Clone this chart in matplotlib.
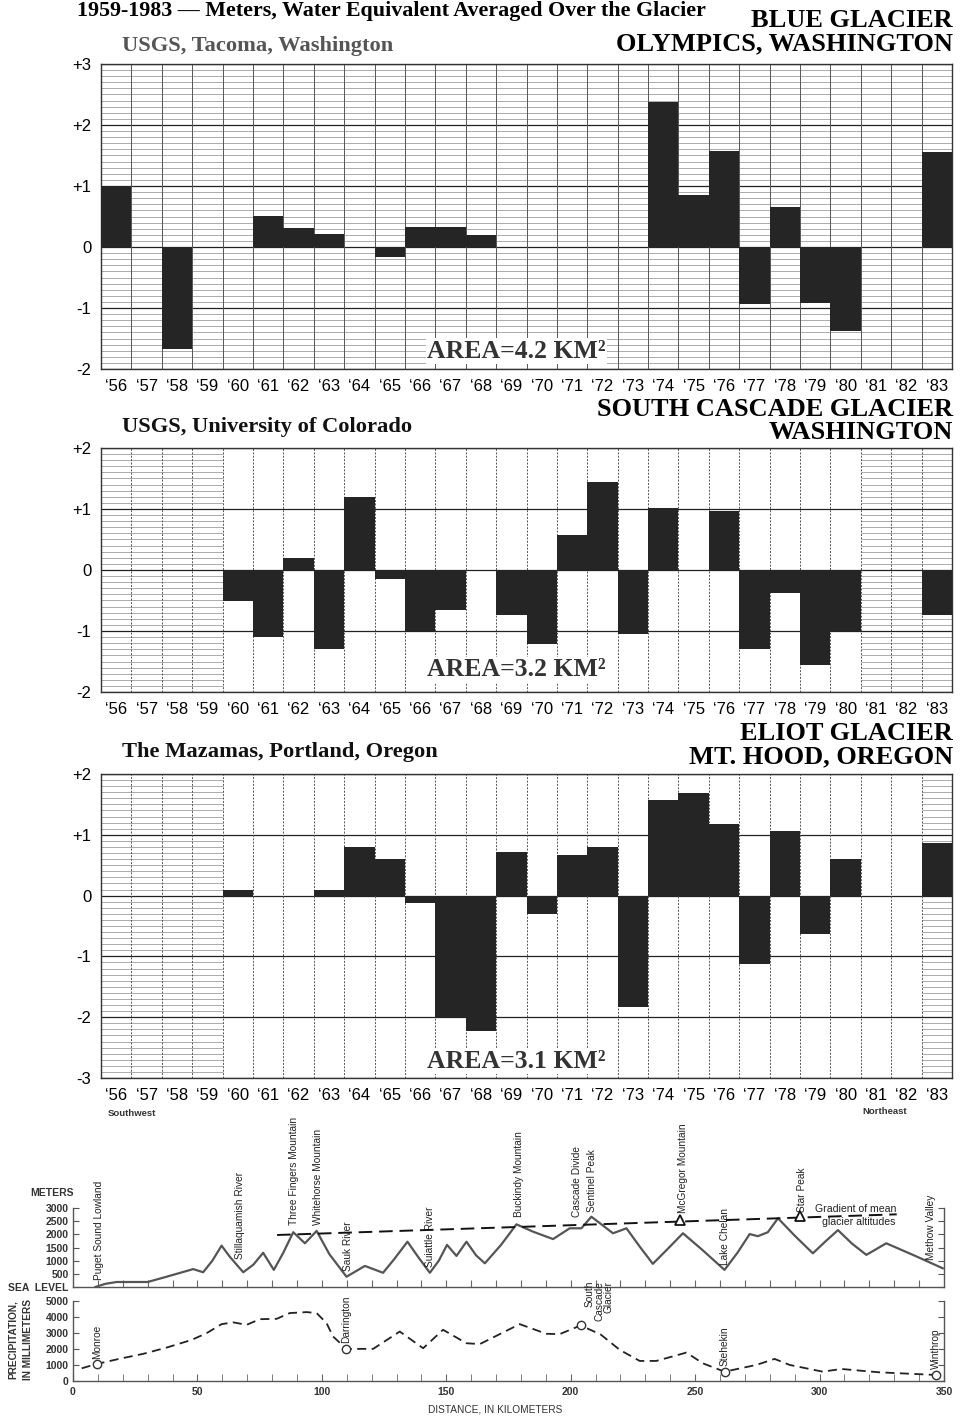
import matplotlib
matplotlib.use("Agg")
import matplotlib.pyplot as plt
import numpy as np

# ---------------- data ----------------
years = list(range(1956, 1984))
year_labels = ["\u2018" + str(y)[2:] for y in years]

blue_balance = [1.0, 0, -1.68, 0, 0, 0.51, 0.31, 0.21, 0, -0.17, 0.33, 0.33, 0.19, 0,
                0, 0, 0, 0, 2.38, 0.86, 1.58, -0.93, 0.66, -0.92, -1.37, 0, 0, 1.56]
south_cascade_balance = [0, 0, 0, 0, -0.5, -1.1, 0.19, -1.3, 1.2, -0.14, -1.0, -0.66, 0, -0.73,
                         -1.21, 0.57, 1.44, -1.05, 1.02, 0, 0.96, -1.30, -0.38, -1.55, -1.0, 0, 0, -0.74]
eliot_balance = [0, 0, 0, 0, 0.1, 0, 0, 0.1, 0.8, 0.6, -0.12, -2.0, -2.22, 0.71,
                 -0.31, 0.67, 0.80, -1.83, 1.57, 1.69, 1.17, -1.13, 1.07, -0.63, 0.60, 0, 0, 0.86]

panel_titles = ["BLUE GLACIER\nOLYMPICS, WASHINGTON",
                "SOUTH CASCADE GLACIER\nWASHINGTON",
                "ELIOT GLACIER\nMT. HOOD, OREGON"]
panel_sources = ["USGS, Tacoma, Washington", "USGS, University of Colorado",
                 "The Mazamas, Portland, Oregon"]
panel_areas = ["AREA=4.2 KM\u00b2", "AREA=3.2 KM\u00b2", "AREA=3.1 KM\u00b2"]
panel_ylims = [(-2, 3), (-2, 2), (-3, 2)]

terrain_km = [9, 13, 17.5, 30, 37.6, 48.3, 52.3, 56, 59.7, 63, 68.4, 72.5, 76.4, 80.7, 84.5,
              88.5, 93.2, 97.9, 103, 109.9, 117.3, 124.6, 129, 134.4, 139, 143.4, 147, 150.3,
              154.1, 158.1, 162, 165.5, 172, 178.2, 184.9, 192.9, 199.6, 204.3, 208.3, 217,
              222.4, 228, 233, 239, 245.1, 253, 261.8, 267, 271.9, 275.2, 279.2, 283.3, 290,
              297.3, 302, 307.4, 313, 318.8, 326.8, 338, 349.5]
terrain_m = [0, 120, 190, 190, 390, 680, 560, 1000, 1570, 1150, 560, 850, 1300, 650, 1300,
             2080, 1660, 2130, 1250, 390, 800, 540, 1050, 1720, 1100, 540, 1000, 1600,
             1180, 1720, 1200, 900, 1600, 2380, 2100, 1820, 2230, 2230, 2670, 2040,
             2230, 1500, 880, 1450, 2040, 1400, 650, 1300, 2010, 1930, 2080, 2610, 1950,
             1280, 1700, 2160, 1650, 1220, 1660, 1200, 710]

gradient_km = [82, 331]
gradient_m = [1975, 2760]
peak_marks_km = [244, 292]
peak_marks_m = [2540, 2700]

precip_km = [3.5, 9.5, 18.9, 28.2, 37.6, 47.7, 53.7, 59.7, 64.4, 69.8, 75.1, 81.8, 87.1, 93.9,
             97.9, 101.9, 104.5, 109.9, 120.6, 131.3, 140.7, 148.7, 158.1, 163.5, 179.5, 190.2,
             195.6, 204, 212, 219.7, 227.7, 234.4, 246.5, 253.1, 261.8, 274.6, 281.9, 288,
             301.3, 308.7, 324, 346.9]
precip_mm = [790, 1060, 1390, 1690, 2080, 2560, 2980, 3540, 3650, 3500, 3850, 3870, 4230, 4290,
             4230, 3600, 2770, 2000, 2000, 3080, 2040, 3190, 2350, 2300, 3540, 2940,
             2920, 3460, 2900, 1940, 1250, 1250, 1770, 1100, 580, 1000, 1375, 1000,
             580, 750, 540, 375]
stations = ["Monroe", "Darrington", "South\nCascade\nGlacier", "Stehekin", "Winthrop"]
station_km = [9.5, 109.9, 204, 261.8, 346.9]
station_mm = [1060, 2000, 3460, 580, 375]

terrain_labels = ["Puget Sound Lowland", "Stillaquamish River", "Three Fingers Mountain",
                  "Whitehorse Mountain", "Sauk River", "Suiattle River", "Buckindy Mountain",
                  "Cascade Divide", "Sentinel Peak", "McGregor Mountain", "Lake Chelan",
                  "Star Peak", "Methow Valley"]
terrain_label_km = [10.5, 67.3, 88.8, 98.3, 110.5, 143.6, 179.1, 202.4, 208.6, 245.3, 262.0,
                    293.1, 344.9]
terrain_label_m = [260, 1060, 2350, 2350, 620, 760, 2650, 2650, 2850, 2800, 830, 2840, 1030]

elev_ticks = [0, 500, 1000, 1500, 2000, 2500, 3000]
elev_ticklabels = ["SEA  LEVEL", "500", "1000", "1500", "2000", "2500", "3000"]
precip_ticks = [0, 1000, 2000, 3000, 4000, 5000]
dist_ticks = [0, 50, 100, 150, 200, 250, 300, 350]

# ---------------- figure ----------------
W, H = 960, 1416
fig = plt.figure(figsize=(W / 100, H / 100), dpi=100)
fig.patch.set_facecolor("white")

SERIF = ["Liberation Serif", "DejaVu Serif"]
SANS = ["Liberation Sans", "DejaVu Sans"]


def fx(x):
    return x / W


def fy(y):
    return 1 - y / H


def ftext(x, y, s, **kw):
    return fig.text(fx(x), fy(y), s, **kw)


panel_boxes = [(101, 64, 952, 369), (101, 448, 952, 692), (101, 774, 952, 1078)]
series = [blue_balance, south_cascade_balance, eliot_balance]
minor_ranges = [[(55.5, 83.5)], [(55.5, 59.5), (80.5, 83.5)], [(55.5, 59.5), (82.5, 83.5)]]
vstyles = ["-", (0, (2, 1.5)), (0, (2, 1.5))]

for i in range(3):
    x0, y0, x1, y1 = panel_boxes[i]
    ax = fig.add_axes([fx(x0), fy(y1), (x1 - x0) / W, (y1 - y0) / H])
    lo, hi = panel_ylims[i]
    ax.set_xlim(55.5, 83.5)
    ax.set_ylim(lo, hi)
    fine = np.arange(lo, hi + 0.001, 0.1)
    for (a, b) in minor_ranges[i]:
        ax.hlines(fine, a, b, color="#8a8a8a", lw=0.5, zorder=1)
    ax.hlines(np.arange(lo, hi + 1), 55.5, 83.5, color="#222222", lw=0.9, zorder=2)
    ax.vlines(np.arange(56.5, 83.5, 1), lo, hi, color="#555555", lw=0.7,
              linestyles=vstyles[i], zorder=2)
    ax.bar([y - 1900 for y in years], series[i], width=1.0, color="#252525",
           edgecolor="none", zorder=3)
    ax.set_xticks([y - 1900 for y in years])
    ax.set_xticklabels(year_labels, fontsize=12, family=SANS)
    yt = list(range(lo, hi + 1))
    ax.set_yticks(yt)
    ax.set_yticklabels([("+%d" % v) if v > 0 else ("%d" % v) for v in yt],
                       fontsize=12, family=SANS)
    ax.tick_params(length=0, pad=7)
    for sp in ax.spines.values():
        sp.set_linewidth(1.0)
        sp.set_color("#333333")
    ax_text_y = [351, 670, 1061][i]
    ftext(427, ax_text_y, panel_areas[i], fontsize=18.5, fontweight="bold", family=SERIF,
          va="center", ha="left", color="#333333", zorder=6,
          bbox=dict(facecolor="white", edgecolor="none", pad=1.0))

# panel headers
ftext(77, 11, "1959-1983 \u2014 Meters, Water Equivalent Averaged Over the Glacier",
      fontsize=15.8, fontweight="bold", family=SERIF, va="center", ha="left")
header_y = [32, 421, 745]
source_y = [46, 427, 752]
source_col = ["#555555", "#111111", "#111111"]
for i in range(3):
    ftext(953, header_y[i], panel_titles[i], fontsize=19, fontweight="bold",
          family=SERIF, va="center", ha="right", multialignment="right", linespacing=1.05)
    ftext(122, source_y[i], panel_sources[i], fontsize=16.2, fontweight="bold",
          family=SERIF, va="center", ha="left", color=source_col[i])

# ---------------- terrain profile ----------------
tx0, tx1 = 73, 944
ax_t = fig.add_axes([fx(tx0), fy(1287), (tx1 - tx0) / W, 187 / H])
ax_t.set_xlim(0, 350)
ax_t.set_ylim(0, 187 / 0.02633)
ax_t.patch.set_alpha(0)
ax_t.plot(terrain_km, terrain_m, color="#555555", lw=1.6, solid_joinstyle="round", zorder=3)
ax_t.plot(gradient_km, gradient_m, color="#111111", lw=1.4, ls=(0, (7, 3.5)), zorder=4)
ax_t.plot(peak_marks_km, peak_marks_m, ls="none", marker="^", ms=7, mfc="white",
          mec="#111111", mew=1.3, zorder=5)
ax_t.spines["top"].set_visible(False)
ax_t.spines["left"].set_bounds(0, 3000)
ax_t.spines["right"].set_bounds(0, 3000)
for sp in ax_t.spines.values():
    sp.set_color("#555555")
    sp.set_linewidth(1.0)
ax_t.set_yticks(elev_ticks)
ax_t.set_yticklabels(elev_ticklabels, fontsize=7.5, family=SANS, fontweight="bold",
                     color="#333333")
ax_t.yaxis.set_ticks_position("both")
ax_t.tick_params(axis="y", direction="in", length=4, pad=3, color="#555555")
ax_t.set_xticks(np.arange(10, 350, 10))
ax_t.set_xticklabels([])
ax_t.tick_params(axis="x", direction="in", length=5, color="#666666")
for s, k, m in zip(terrain_labels, terrain_label_km, terrain_label_m):
    ax_t.text(k, m, s, rotation=90, ha="center", va="bottom", fontsize=7.3,
              family=SANS, color="#222222")
ax_t.text(298, 2980, "Gradient of mean", fontsize=7.6, family=SANS, color="#222222",
          ha="left", va="center")
ax_t.text(301, 2470, "glacier altitudes", fontsize=7.6, family=SANS, color="#222222",
          ha="left", va="center")
ftext(74, 1193, "METERS", fontsize=7.5, family=SANS, fontweight="bold", ha="right",
      va="center", color="#333333")
ftext(108, 1114, "Southwest", fontsize=6.8, family=SANS, fontweight="bold", ha="left",
      va="center", color="#333333")
ftext(907, 1112, "Northeast", fontsize=6.8, family=SANS, fontweight="bold", ha="right",
      va="center", color="#333333")

# ---------------- precipitation profile ----------------
ax_p = fig.add_axes([fx(tx0), fy(1381), (tx1 - tx0) / W, 80.3 / H])
ax_p.set_xlim(0, 350)
ax_p.set_ylim(0, 5000)
ax_p.patch.set_alpha(0)
ax_p.plot(precip_km, precip_mm, color="#222222", lw=1.3, ls=(0, (5, 3)), zorder=3)
ax_p.plot(station_km, station_mm, ls="none", marker="o", ms=6, mfc="white",
          mec="#333333", mew=1.0, zorder=4)
ax_p.spines["top"].set_visible(False)
for sp in ax_p.spines.values():
    sp.set_color("#555555")
    sp.set_linewidth(1.0)
ax_p.set_yticks(precip_ticks)
ax_p.set_yticklabels([str(v) for v in precip_ticks], fontsize=7.5, family=SANS,
                     fontweight="bold", color="#333333")
ax_p.yaxis.set_ticks_position("both")
ax_p.tick_params(axis="y", direction="in", length=4, pad=3, color="#555555")
ax_p.set_xticks(dist_ticks)
ax_p.set_xticklabels([str(v) for v in dist_ticks], fontsize=7.5, family=SANS,
                     fontweight="bold", color="#333333")
ax_p.set_xticks(np.arange(10, 350, 10), minor=True)
ax_p.tick_params(axis="x", which="both", direction="in", length=5, pad=4, color="#666666")
station_offsets = [300, 350, 300, 350, 350]
for s, k, m, off in zip(stations, station_km, station_mm, station_offsets):
    if "\n" in s:
        ax_p.text(k + 1.5, m + off, s, rotation=90, ha="left", va="bottom", fontsize=7.3,
                  family=SANS, color="#222222", multialignment="right", linespacing=0.95)
    else:
        ax_p.text(k, m + off, s, rotation=90, ha="center", va="bottom", fontsize=7.3,
                  family=SANS, color="#222222")
ftext(13, 1340, "PRECIPITATION,", rotation=90, fontsize=7.3, family=SANS,
      fontweight="bold", ha="center", va="center", color="#333333")
ftext(28, 1340, "IN MILLIMETERS", rotation=90, fontsize=7.3, family=SANS,
      fontweight="bold", ha="center", va="center", color="#333333")
ftext(495, 1409, "DISTANCE, IN KILOMETERS", fontsize=7.3, family=SANS,
      ha="center", va="center", color="#333333")

fig.savefig("out.png", dpi=100, facecolor="white")
